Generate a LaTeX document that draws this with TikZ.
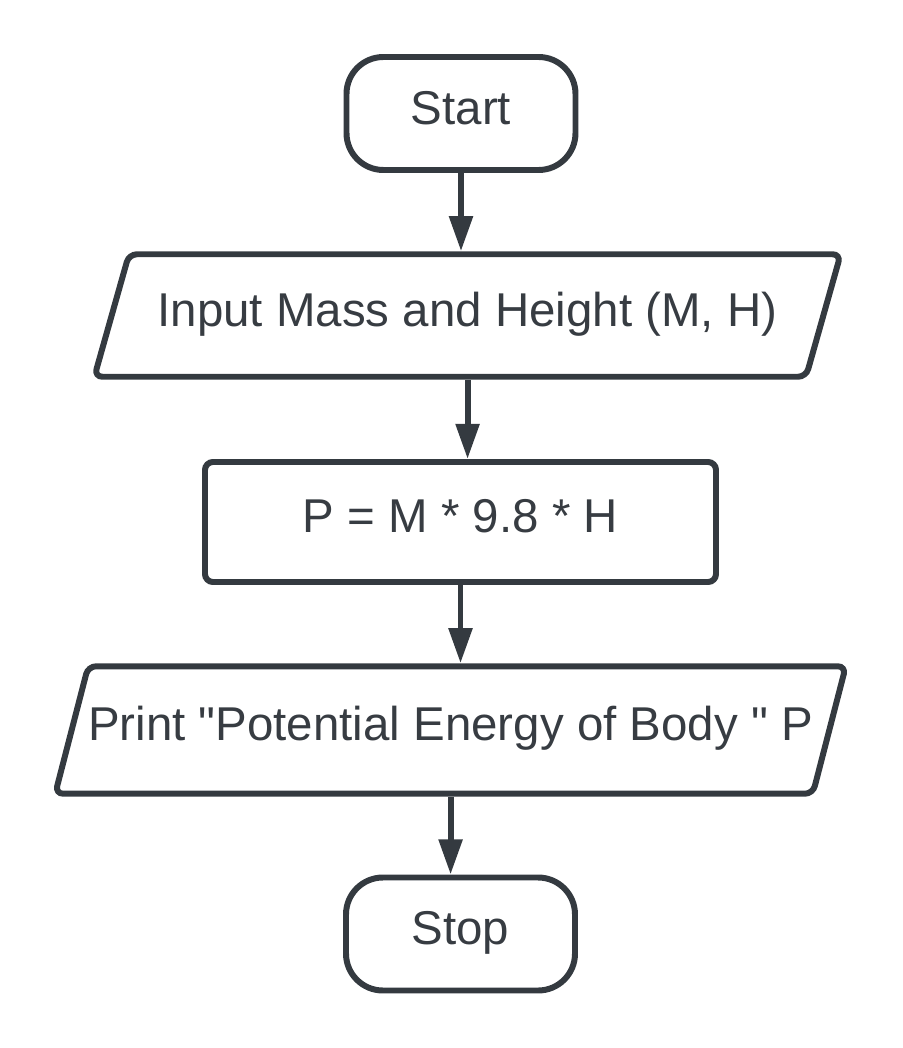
\documentclass[tikz,border=0pt]{standalone}
\usepackage{fontspec}
\setmainfont{Liberation Sans}
\usetikzlibrary{arrows.meta,shapes.geometric}
\definecolor{flowline}{HTML}{343A40}
\definecolor{flowtext}{HTML}{373C42}

\begin{document}
\begin{tikzpicture}[
  every node/.style={font=\fontsize{27}{31}\selectfont,text=flowtext,
    text height=19pt,text depth=6.5pt},
  terminal/.style={draw=flowline,line width=3.4pt,rounded corners=21pt,
    minimum width=4.58cm,minimum height=2.26cm,inner sep=0pt},
  process/.style={draw=flowline,line width=3.4pt,rounded corners=4.5pt,
    minimum width=10.22cm,minimum height=2.4cm,inner sep=0pt},
  io/.style={draw=flowline,line width=3.4pt,rounded corners=4.5pt,
    trapezium,trapezium left angle=75.5,trapezium right angle=104.5,
    trapezium stretches=true,inner xsep=0pt},
  flow/.style={draw=flowline,line width=3.4pt,-{Triangle[length=20pt,width=13pt]}}
]
\useasboundingbox (0,0) rectangle (18.04,-20.96);

\node[terminal] (start) at (9.22,-2.27) {Start};
\node[io,minimum width=14.98cm,inner ysep=22.1pt] (input) at (9.35,-6.31)
  {Input Mass and Height (M, H)};
\node[process] (calc) at (9.21,-10.44) {P = M * 9.8 * H};
\node[io,minimum width=15.64cm,inner ysep=23.5pt] (print) at (9.01,-14.6)
  {Print \textquotedbl Potential Energy of Body \textquotedbl\ P};
\node[terminal] (stop) at (9.21,-18.68) {Stop};

\draw[flow] (start.south) -- (start.south |- input.north);
\draw[flow] (input.south) -- (input.south |- calc.north);
\draw[flow] (calc.south) -- (calc.south |- print.north);
\draw[flow] (print.south) -- (print.south |- stop.north);
\end{tikzpicture}
\end{document}
